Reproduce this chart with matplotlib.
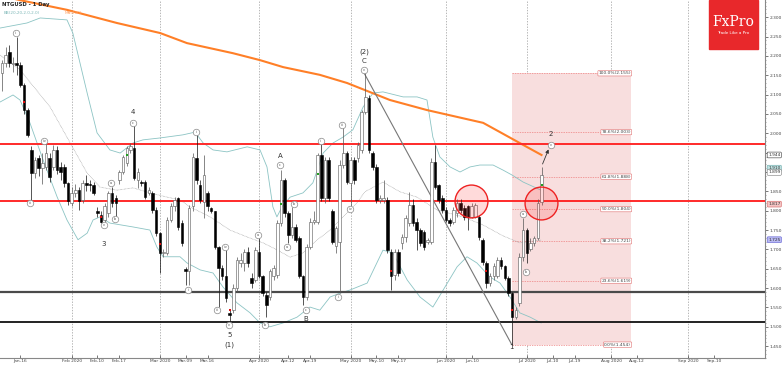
import numpy as np
import pandas as pd
import matplotlib
matplotlib.use('Agg')
import matplotlib.pyplot as plt
from matplotlib.patches import Rectangle
from matplotlib.ticker import MultipleLocator, FuncFormatter
from matplotlib import transforms

# daily OHLC (Jan 10 - Jul 7 2020)
opens = [2.155, 2.181, 2.211, 2.180, 2.181, 2.177, 2.125, 2.060, 1.957, 1.897,
         1.935, 1.910, 1.914, 1.935, 1.914, 1.957, 1.914, 1.914, 1.871, 1.819,
         1.845, 1.854, 1.828, 1.871, 1.867, 1.867, 1.800, 1.789, 1.776, 1.793,
         1.845, 1.832, 1.880, 1.901, 1.923, 1.957, 1.961, 1.880, 1.875, 1.875,
         1.845, 1.845, 1.802, 1.742, 1.690, 1.690, 1.776, 1.811, 1.832, 1.768,
         1.649, 1.643, 1.811, 1.935, 1.867, 1.823, 1.845, 1.806, 1.798, 1.707,
         1.651, 1.630, 1.535, 1.544, 1.600, 1.664, 1.664, 1.694, 1.625, 1.621,
         1.694, 1.630, 1.582, 1.578, 1.630, 1.634, 1.768, 1.879, 1.793, 1.737,
         1.759, 1.729, 1.630, 1.578, 1.707, 1.772, 1.772, 1.944, 1.832, 1.931,
         1.798, 1.710, 1.720, 1.918, 1.948, 1.871, 1.931, 1.935, 1.957, 2.056,
         2.090, 1.948, 1.914, 1.828, 1.828, 1.828, 1.694, 1.634, 1.694, 1.716,
         1.733, 1.768, 1.815, 1.772, 1.750, 1.746, 1.720, 1.720, 1.927, 1.867,
         1.832, 1.802, 1.776, 1.772, 1.793, 1.819, 1.806, 1.811, 1.785, 1.785,
         1.785, 1.724, 1.664, 1.612, 1.630, 1.630, 1.673, 1.656, 1.625, 1.587,
         1.526, 1.561, 1.681, 1.750, 1.700, 1.716, 1.729, 1.823]
highs = [2.190, 2.224, 2.228, 2.198, 2.250, 2.185, 2.130, 2.065, 1.966, 1.940,
         1.945, 1.948, 1.974, 1.950, 1.970, 1.966, 1.925, 1.920, 1.875, 1.860,
         1.870, 1.860, 1.880, 1.892, 1.880, 1.875, 1.810, 1.800, 1.820, 1.850,
         1.862, 1.840, 1.905, 1.945, 1.968, 1.974, 2.022, 1.910, 1.880, 1.880,
         1.860, 1.850, 1.810, 1.745, 1.700, 1.785, 1.820, 1.835, 1.836, 1.775,
         1.655, 1.815, 1.948, 1.996, 1.880, 1.944, 1.850, 1.810, 1.800, 1.710,
         1.660, 1.699, 1.545, 1.610, 1.680, 1.690, 1.700, 1.705, 1.640, 1.705,
         1.729, 1.635, 1.590, 1.650, 1.660, 1.775, 1.905, 1.885, 1.800, 1.810,
         1.765, 1.735, 1.635, 1.715, 1.780, 1.800, 1.950, 1.978, 1.940, 1.940,
         1.805, 1.760, 1.930, 2.022, 1.955, 1.940, 1.940, 1.978, 2.060, 2.155,
         2.100, 1.955, 1.920, 1.840, 1.879, 1.835, 1.700, 1.700, 1.700, 1.740,
         1.790, 1.849, 1.830, 1.780, 1.755, 1.750, 1.730, 1.935, 1.970, 1.870,
         1.840, 1.810, 1.780, 1.810, 1.830, 1.830, 1.815, 1.815, 1.820, 1.820,
         1.790, 1.730, 1.670, 1.640, 1.665, 1.680, 1.680, 1.660, 1.630, 1.590,
         1.550, 1.690, 1.780, 1.755, 1.730, 1.735, 1.830, 1.914]
lows = [2.108, 2.170, 2.170, 2.159, 2.151, 2.120, 2.050, 1.990, 1.823, 1.885,
        1.890, 1.870, 1.905, 1.875, 1.905, 1.895, 1.880, 1.860, 1.815, 1.811,
        1.835, 1.802, 1.820, 1.850, 1.850, 1.840, 1.785, 1.768, 1.770, 1.785,
        1.810, 1.785, 1.870, 1.895, 1.915, 1.950, 1.880, 1.858, 1.865, 1.830,
        1.840, 1.795, 1.735, 1.638, 1.680, 1.685, 1.770, 1.800, 1.750, 1.710,
        1.608, 1.608, 1.800, 1.870, 1.820, 1.780, 1.800, 1.795, 1.700, 1.552,
        1.620, 1.565, 1.514, 1.535, 1.590, 1.655, 1.645, 1.655, 1.600, 1.615,
        1.625, 1.580, 1.526, 1.570, 1.620, 1.625, 1.760, 1.785, 1.716, 1.730,
        1.720, 1.625, 1.557, 1.570, 1.700, 1.765, 1.765, 1.825, 1.820, 1.825,
        1.715, 1.690, 1.587, 1.910, 1.870, 1.811, 1.870, 1.925, 1.950, 2.050,
        1.950, 1.905, 1.820, 1.820, 1.820, 1.690, 1.595, 1.620, 1.630, 1.700,
        1.720, 1.760, 1.760, 1.699, 1.710, 1.699, 1.715, 1.715, 1.855, 1.820,
        1.795, 1.770, 1.760, 1.765, 1.785, 1.795, 1.775, 1.750, 1.780, 1.780,
        1.725, 1.660, 1.600, 1.605, 1.620, 1.625, 1.650, 1.620, 1.580, 1.454,
        1.520, 1.555, 1.670, 1.664, 1.695, 1.710, 1.725, 1.815]
closes = [2.181, 2.202, 2.181, 2.182, 2.177, 2.125, 2.060, 1.996, 1.897, 1.931,
          1.910, 1.923, 1.948, 1.888, 1.957, 1.905, 1.901, 1.871, 1.824, 1.845,
          1.854, 1.824, 1.871, 1.867, 1.866, 1.845, 1.793, 1.772, 1.811, 1.845,
          1.819, 1.819, 1.901, 1.940, 1.961, 1.966, 1.884, 1.901, 1.871, 1.836,
          1.854, 1.802, 1.742, 1.690, 1.694, 1.776, 1.811, 1.828, 1.759, 1.716,
          1.643, 1.806, 1.940, 1.879, 1.828, 1.892, 1.811, 1.800, 1.707, 1.651,
          1.630, 1.574, 1.530, 1.600, 1.673, 1.673, 1.694, 1.664, 1.612, 1.699,
          1.630, 1.587, 1.557, 1.643, 1.651, 1.768, 1.879, 1.793, 1.737, 1.759,
          1.724, 1.630, 1.578, 1.707, 1.772, 1.776, 1.944, 1.832, 1.931, 1.832,
          1.720, 1.755, 1.918, 1.948, 1.875, 1.931, 1.880, 1.970, 2.056, 2.094,
          1.957, 1.914, 1.828, 1.832, 1.832, 1.699, 1.630, 1.694, 1.638, 1.733,
          1.780, 1.815, 1.768, 1.750, 1.716, 1.707, 1.724, 1.927, 1.862, 1.828,
          1.802, 1.776, 1.768, 1.802, 1.819, 1.802, 1.785, 1.785, 1.811, 1.815,
          1.733, 1.668, 1.612, 1.630, 1.656, 1.673, 1.656, 1.625, 1.587, 1.526,
          1.544, 1.681, 1.750, 1.690, 1.716, 1.729, 1.819, 1.892]

# 200 moving average (sampled along the line)
ma_x = [-0.5, 4.9, 17.7, 31.3, 43.1, 50.4, 62.9, 70.3, 76.6, 86.6, 94.0, 105.7, 115.8, 131.1, 135.7, 142.0, 147.0]
ma_val = [2.356, 2.344, 2.319, 2.285, 2.259, 2.233, 2.207, 2.189, 2.171, 2.151, 2.130, 2.086, 2.060, 2.027, 2.003, 1.970, 1.944]

# Bollinger bands (sampled)
bb_up_x = [-0.5, 6.8, 10.4, 17.7, 19.3, 23.2, 25.9, 29.4, 32.2, 35.7, 38.4, 43.1, 49.3, 52.6, 54.8, 57.5,
           61.3, 66.8, 70.3, 72.2, 73.8, 74.9, 76.3, 78.5, 82.0, 84.7, 87.5, 90.2, 92.9, 95.6, 98.4, 101.1,
           103.8, 109.3, 113.1, 115.8, 117.4, 119.3, 122.1, 124.8, 127.5, 130.2, 133.8, 136.5, 139.0, 142.0, 146.9]
bb_up = [2.272, 2.285, 2.298, 2.293, 2.259, 2.104, 2.001, 1.957, 1.949, 1.975, 1.983, 1.988, 1.996, 2.003, 1.975, 1.957,
         1.952, 1.965, 1.957, 1.913, 1.810, 1.784, 1.810, 1.835, 1.846, 1.872, 1.949, 1.975, 1.990, 2.009, 2.068, 2.104,
         2.107, 2.094, 2.094, 2.086, 1.990, 1.939, 1.913, 1.900, 1.913, 1.918, 1.918, 1.905, 1.892, 1.874, 1.853]
bb_lo_x = [-0.5, 3.0, 4.9, 7.6, 11.2, 15.0, 17.7, 20.7, 23.2, 24.8, 26.7, 29.4, 35.7, 40.3, 42.2, 43.9, 48.5,
           50.4, 54.0, 57.5, 60.2, 64.0, 67.6, 70.3, 73.0, 76.6, 80.4, 83.9, 86.6, 89.4, 92.1, 94.8, 99.5,
           103.8, 106.5, 110.4, 113.9, 117.4, 120.2, 124.0, 126.7, 129.4, 132.9, 135.7, 138.4, 141.1, 143.9, 146.9]
bb_lo = [2.081, 2.099, 2.086, 2.027, 1.931, 1.836, 1.776, 1.725, 1.742, 1.776, 1.784, 1.768, 1.758, 1.750, 1.706, 1.681, 1.681,
         1.665, 1.647, 1.639, 1.603, 1.562, 1.536, 1.510, 1.500, 1.510, 1.525, 1.551, 1.543, 1.577, 1.587, 1.595, 1.613,
         1.698, 1.691, 1.621, 1.577, 1.551, 1.595, 1.655, 1.681, 1.665, 1.629, 1.613, 1.577, 1.536, 1.525, 1.510]
bb_mid_x = [-0.5, 4.9, 13.1, 17.7, 23.2, 26.7, 31.3, 35.7, 40.3, 45.0, 48.5, 51.2, 56.7, 62.1, 66.8, 71.1, 74.9,
            78.5, 82.0, 85.8, 89.4, 92.9, 96.7, 98.9, 103.8, 108.4, 113.1, 118.5, 125.6, 131.1, 136.5, 141.1, 146.9]
bb_mid = [2.202, 2.164, 2.068, 1.990, 1.897, 1.861, 1.853, 1.859, 1.846, 1.835, 1.828, 1.810, 1.784, 1.750, 1.732, 1.717, 1.699,
          1.680, 1.691, 1.724, 1.750, 1.784, 1.820, 1.849, 1.874, 1.849, 1.835, 1.802, 1.784, 1.763, 1.735, 1.717, 1.724]

# support / resistance levels
red_levels = [1.972, 1.826]
dark_levels = [1.590, 1.512]

# fibonacci retracement (low bar 139 -> high 2.155)
fib_pct = ['0.0%', '23.6%', '38.2%', '50.0%', '61.8%', '78.6%', '100.0%']
fib_price = [1.454, 1.619, 1.721, 1.804, 1.888, 2.003, 2.155]
fib_x0, fib_x1 = 138.9, 171.4

# wave counts
circ_text = ['ii', 'iii', 'iv', 'v', 'a', 'b', 'c', 'i', 'ii', 'iii', 'iv', 'v', 'a', 'b', 'c',
             'a', 'b', 'c', 'i', 'ii', 'iii', 'iv', 'v', 'a', 'b', 'v']
circ_x = [3.7, 7.6, 11.5, 27.8, 29.7, 30.8, 35.6, 50.8, 52.9, 58.5, 60.8, 61.9, 69.8, 71.7, 75.7,
          77.7, 79.6, 82.7, 86.8, 91.6, 92.7, 94.8, 98.7, 141.9, 142.8, 149.6]
circ_y = [2.258, 1.821, 1.981, 1.763, 1.872, 1.779, 2.027, 1.595, 2.004, 1.543, 1.707, 1.504, 1.737, 1.504, 1.918,
          1.705, 1.817, 1.543, 1.980, 1.578, 2.021, 1.805, 2.164, 1.791, 1.642, 1.970]
wave_text = ['4', '3', '5', '(1)', 'A', 'B', 'C', '(2)', '1', '2']
wave_x = [35.6, 27.8, 61.9, 61.9, 75.7, 82.7, 98.7, 98.7, 138.9, 149.6]
wave_y = [2.054, 1.713, 1.479, 1.453, 1.941, 1.519, 2.188, 2.211, 1.448, 1.998]

# highlighted zones
zone_x = [127.8, 146.9]
zone_y = [1.824, 1.820]

# small signal markers
red_mk_x = [6, 27, 43, 62, 106, 132, 139]
red_mk_y = [2.082, 1.785, 1.714, 1.544, 1.645, 1.643, 1.544]
green_mk_x = [34, 76, 86, 147]
green_mk_y = [1.944, 1.817, 1.894, 1.866]

# price labels on the right axis
tag_price = [1.944, 1.910, 1.899, 1.817, 1.725]
tag_face = ['white', '#bfe3e3', 'white', '#f3c4c4', '#b9b9f2']
tag_edge = ['#333333', '#6aa9a9', '#777777', '#d46060', '#5a5ad0']

tick_dates = ['2020-01-16', '2020-02-01', '2020-02-10', '2020-02-17', '2020-03-01', '2020-03-09', '2020-03-16',
              '2020-04-01', '2020-04-12', '2020-04-19', '2020-05-01', '2020-05-10', '2020-05-17', '2020-06-01',
              '2020-06-10', '2020-07-01', '2020-07-10', '2020-07-19', '2020-08-01', '2020-08-12', '2020-09-01',
              '2020-09-10']
tick_labels = ['Jan-16', 'Feb 2020', 'Feb-10', 'Feb-17', 'Mar 2020', 'Mar-09', 'Mar-16', 'Apr 2020', 'Apr-12',
               'Apr-19', 'May 2020', 'May-10', 'May-17', 'Jun 2020', 'Jun-10', 'Jul 2020', 'Jul-10', 'Jul-19',
               'Aug 2020', 'Aug-12', 'Sep 2020', 'Sep-10']


# bar calendar: sunday bars until end of May, weekdays afterwards
def bar_calendar(start, end):
    cut = pd.Timestamp('2020-06-01')
    keep = []
    for d in pd.date_range(start, end):
        if d == pd.Timestamp('2020-04-10'):
            continue
        if (d < cut and d.weekday() != 5) or (d >= cut and d.weekday() < 5):
            keep.append(d)
    return pd.DatetimeIndex(keep)


cal = bar_calendar('2020-01-10', '2020-10-31')
tick_idx = [cal.searchsorted(pd.Timestamp(d)) for d in tick_dates]

fig = plt.figure(figsize=(7.82, 3.66), dpi=100)
ax = fig.add_axes([0, 8 / 366, 765 / 782, 358 / 366])
ax.set_xlim(-0.55, 207.9)
ax.set_ylim(1.4194, 2.3444)

# month gridlines
for t, lab in zip(tick_idx, tick_labels):
    if '2020' in lab:
        ax.axvline(t, color='#9a9a9a', lw=0.5, ls=(0, (2, 2)), zorder=0.2)

# fib box
ax.add_patch(Rectangle((fib_x0, fib_price[0]), fib_x1 - fib_x0, fib_price[-1] - fib_price[0],
                       facecolor='#f8dede', edgecolor='none', zorder=0.3))
for pct, pr in zip(fib_pct, fib_price):
    ax.plot([fib_x0, fib_x1], [pr, pr], color='#ee8080', lw=0.5, ls=(0, (2, 1.5)), zorder=0.4)
    ax.text(fib_x1, pr, f'{pct}({pr:.3f})', fontsize=3.2, ha='right', va='center', color='#444444', zorder=6,
            bbox=dict(boxstyle='round,pad=0.15', fc='white', ec='#e07070', lw=0.4))

# horizontal levels
for lv in red_levels:
    ax.axhline(lv, color='#ff2a2a', lw=1.4, zorder=3)
ax.axhline(dark_levels[0], color='#4a4a4a', lw=1.6, zorder=3)
ax.axhline(dark_levels[1], color='#111111', lw=1.3, zorder=3)

# bollinger + MA
ax.plot(bb_up_x, bb_up, color='#8cc4c4', lw=0.6, zorder=1)
ax.plot(bb_lo_x, bb_lo, color='#8cc4c4', lw=0.6, zorder=1)
ax.plot(bb_mid_x, bb_mid, color='#a0a0a0', lw=0.5, ls=(0, (1, 1)), zorder=1)
ax.plot(ma_x, ma_val, color='#ff7f27', lw=1.5, zorder=2)

# candles
o = np.array(opens)
h = np.array(highs)
l = np.array(lows)
c = np.array(closes)
x = np.arange(len(o))
up = c >= o
ax.vlines(x[up], l[up], h[up], color='#555555', lw=0.5, zorder=4)
ax.vlines(x[~up], l[~up], h[~up], color='#111111', lw=0.5, zorder=4)
body_lo = np.minimum(o, c)
body_h = np.maximum(np.abs(c - o), 0.002)
ax.bar(x[up], body_h[up], bottom=body_lo[up], width=0.7, color='white', edgecolor='#555555', lw=0.4, zorder=5)
ax.bar(x[~up], body_h[~up], bottom=body_lo[~up], width=0.7, color='black', edgecolor='black', lw=0.4, zorder=5)

ax.scatter(red_mk_x, red_mk_y, s=3, marker='s', color='#e01010', zorder=6, lw=0)
ax.scatter(green_mk_x, green_mk_y, s=3, marker='s', color='#20a020', zorder=6, lw=0)

# trend line and projection arrow
ax.plot([circ_x[22], fib_x0], [fib_price[-1], fib_price[0]], color='#777777', lw=0.8, zorder=3.5)
ax.annotate('', xy=(149.2, 1.965), xytext=(147, 1.914),
            arrowprops=dict(arrowstyle='-|>', color='#333333', lw=0.6, mutation_scale=5), zorder=7)

# highlighted circles
ax.scatter(zone_x, zone_y, s=560, facecolor=(1, 0.2, 0.2, 0.18), edgecolor='#ee2222', lw=1.0, zorder=6)

# wave labels
ax.scatter(circ_x, circ_y, s=22, facecolor='white', edgecolor='#888888', lw=0.5, zorder=7)
for t, xx, yy in zip(circ_text, circ_x, circ_y):
    ax.text(xx, yy, t, fontsize=2.3, ha='center', va='center', color='#444444', zorder=8)
for t, xx, yy in zip(wave_text, wave_x, wave_y):
    ax.text(xx, yy, t, fontsize=5, ha='center', va='center', color='#333333', zorder=8)


# tick labels hidden where a price tag sits on them
def price_fmt(v, pos):
    if any(abs(v - tp) < 0.01 for tp in tag_price):
        return ''
    return f'{v:.3f}'


# axes styling
for s in ['top', 'left']:
    ax.spines[s].set_visible(False)
for s in ['right', 'bottom']:
    ax.spines[s].set_color('#888888')
    ax.spines[s].set_linewidth(0.8)
ax.yaxis.tick_right()
ax.yaxis.set_major_locator(MultipleLocator(0.05))
ax.yaxis.set_minor_locator(MultipleLocator(0.01))
ax.yaxis.set_major_formatter(FuncFormatter(price_fmt))
ax.tick_params(axis='y', which='major', labelsize=3.2, length=2, width=0.5, pad=1.2, colors='#444444')
ax.tick_params(axis='y', which='minor', length=1, width=0.4, colors='#666666')
ax.set_xticks(tick_idx)
ax.set_xticklabels(tick_labels)
ax.tick_params(axis='x', labelsize=3.2, length=2, width=0.5, pad=0.6, direction='in', colors='#444444')

# price tags
trans = transforms.blended_transform_factory(ax.transAxes, ax.transData)
for pr, fc, ec in zip(tag_price, tag_face, tag_edge):
    ax.text(1.004, pr, f'{pr:.3f}', transform=trans, fontsize=3.2, ha='left', va='center', color='#333333',
            zorder=10, clip_on=False, bbox=dict(boxstyle='round,pad=0.2', fc=fc, ec=ec, lw=0.4))

# header texts
ax.text(0.003, 0.995, 'NTGUSD - 1 Day', transform=ax.transAxes, fontsize=3.8, fontweight='bold',
        va='top', ha='left', color='#222222')
ax.text(0.005, 0.968, 'BB(20,20,2.0,2.0)', transform=ax.transAxes, fontsize=3.0,
        va='top', ha='left', color='#7fb8b8')
ax.text(0.085, 0.968, 'MA(200)', transform=ax.transAxes, fontsize=3.0,
        va='top', ha='left', color='#ffa060')

# logo
fig.patches.append(Rectangle((709 / 782, 1 - 49.3 / 366), 49 / 782, 49.3 / 366,
                             transform=fig.transFigure, color='#e8282b', zorder=20))
fig.text(733.5 / 782, 1 - 22.5 / 366, 'FxPro', fontsize=10, family='DejaVu Serif', color='white',
         ha='center', va='center', zorder=21)
fig.text(733.5 / 782, 1 - 32.5 / 366, 'Trade Like a Pro', fontsize=3.0, color='white',
         ha='center', va='center', zorder=21)

fig.savefig('out.png', dpi=100)
